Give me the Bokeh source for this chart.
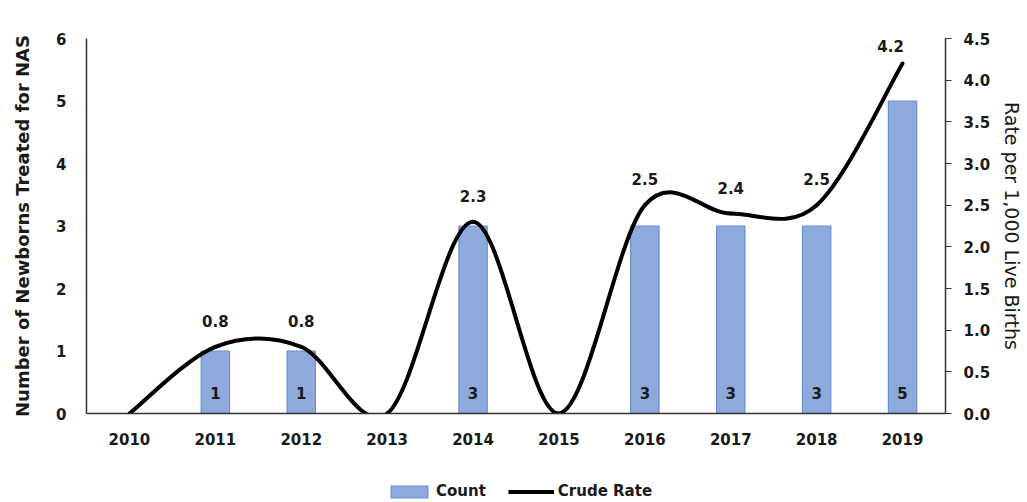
import numpy as np
from bokeh.plotting import figure
from bokeh.layouts import column
from bokeh.models import (Range1d, LinearAxis, FixedTicker, ColumnDataSource,
                          LabelSet, Legend, LegendItem)
from bokeh.core.properties import value
from bokeh.embed import file_html
from bokeh.resources import INLINE

# NAS newborn counts and crude rate per 1,000 live births
years = ["2010", "2011", "2012", "2013", "2014", "2015", "2016", "2017", "2018", "2019"]
counts = [0, 1, 1, 0, 3, 0, 3, 3, 3, 5]
rates = [0.0, 0.8, 0.8, 0.0, 2.3, 0.0, 2.5, 2.4, 2.5, 4.2]
count_ticks = [0, 1, 2, 3, 4, 5, 6]
rate_ticks = [0.0, 0.5, 1.0, 1.5, 2.0, 2.5, 3.0, 3.5, 4.0, 4.5]

FONT = "DejaVu Sans"
INK = "#1a1a1a"
BAR_FILL = "#8EA9DB"
BAR_EDGE = "#6A8FD6"

xs = list(range(len(years)))

p = figure(width=1027, height=462,
           x_range=Range1d(-0.5, len(years) - 0.5),
           y_range=Range1d(0, 6),
           output_backend="svg", toolbar_location=None,
           min_border_left=86, min_border_right=82,
           min_border_top=38, min_border_bottom=49)
p.extra_y_ranges = {"rate": Range1d(0, 4.5)}
p.outline_line_color = None
p.xgrid.visible = False
p.ygrid.visible = False
p.background_fill_color = "white"


def style_ticks(ax):
    ax.major_label_text_font = FONT
    ax.major_label_text_font_style = "bold"
    ax.major_label_text_font_size = "15px"
    ax.major_label_text_color = INK
    ax.axis_line_color = "#333333"
    ax.axis_line_width = 1.5
    ax.minor_tick_out = 0
    ax.minor_tick_in = 0
    ax.major_tick_in = 0


# --- axes -------------------------------------------------------------
xa = p.xaxis[0]
style_ticks(xa)
xa.ticker = FixedTicker(ticks=xs)
xa.major_label_overrides = {i: y for i, y in enumerate(years)}
xa.major_tick_out = 0
xa.major_label_standoff = 19

ya = p.yaxis[0]
style_ticks(ya)
ya.ticker = FixedTicker(ticks=count_ticks)
ya.major_tick_out = 0
ya.major_label_standoff = 20
ya.axis_label = "Number of Newborns Treated for NAS"
ya.axis_label_text_font = FONT
ya.axis_label_text_font_style = "bold"
ya.axis_label_text_font_size = "18px"
ya.axis_label_text_color = INK
ya.axis_label_standoff = 20

ra = LinearAxis(y_range_name="rate", ticker=FixedTicker(ticks=rate_ticks))
style_ticks(ra)
ra.major_label_overrides = {t: f"{t:.1f}" for t in rate_ticks}
ra.major_tick_out = 6
ra.major_tick_line_color = "#333333"
ra.major_label_standoff = 12
ra.axis_label = "Rate per 1,000 Live Births"
ra.axis_label_text_font = FONT
ra.axis_label_text_font_style = "normal"
ra.axis_label_text_font_size = "19px"
ra.axis_label_text_color = INK
ra.axis_label_standoff = 8
p.add_layout(ra, "right")

# --- count bars -------------------------------------------------------
bar_src = ColumnDataSource(dict(x=xs, top=counts, year=years))
BAR_STYLE = dict(fill_color=BAR_FILL, line_color=BAR_EDGE, line_width=1.2)
p.vbar(x="x", top="top", width=0.33, source=bar_src, **BAR_STYLE)

cnt_lab = ColumnDataSource(dict(
    x=[x for x, c in zip(xs, counts) if c > 0],
    y=[0] * sum(1 for c in counts if c > 0),
    text=[str(c) for c in counts if c > 0]))
p.add_layout(LabelSet(x="x", y="y", text="text", source=cnt_lab,
                      y_offset=21, text_align="center", text_baseline="middle",
                      text_font=value(FONT), text_font_style="bold",
                      text_font_size="15px", text_color=INK))

# --- smoothed crude-rate line (Catmull-Rom as cubic Bezier segments) ---
LINE_STYLE = dict(line_color="black", line_width=4)
n = len(rates)
seg = dict(x0=[], y0=[], x1=[], y1=[], cx0=[], cy0=[], cx1=[], cy1=[])
for i in range(n - 1):
    a, b = max(i - 1, 0), min(i + 2, n - 1)
    seg["x0"].append(xs[i]); seg["y0"].append(rates[i])
    seg["x1"].append(xs[i + 1]); seg["y1"].append(rates[i + 1])
    seg["cx0"].append(xs[i] + (xs[i + 1] - xs[a]) / 6)
    seg["cy0"].append(rates[i] + (rates[i + 1] - rates[a]) / 6)
    seg["cx1"].append(xs[i + 1] - (xs[b] - xs[i]) / 6)
    seg["cy1"].append(rates[i + 1] - (rates[b] - rates[i]) / 6)
p.bezier(x0="x0", y0="y0", x1="x1", y1="y1", cx0="cx0", cy0="cy0",
         cx1="cx1", cy1="cy1", source=ColumnDataSource(seg),
         line_cap="round", y_range_name="rate", **LINE_STYLE)

# rate value labels (the final point's label sits up and to the left)
lab_x, lab_y, lab_t, dx, dy = [], [], [], [], []
for i, r in enumerate(rates):
    if r > 0:
        lab_x.append(xs[i]); lab_y.append(r); lab_t.append(f"{r:.1f}")
        last = i == n - 1
        dx.append(-12 if last else 0)
        dy.append(18 if last else 26)
rate_lab = ColumnDataSource(dict(x=lab_x, y=lab_y, text=lab_t, dx=dx, dy=dy))
p.add_layout(LabelSet(x="x", y="y", text="text", source=rate_lab,
                      x_offset="dx", y_offset="dy", y_range_name="rate",
                      text_align="center", text_baseline="middle",
                      text_font=value(FONT), text_font_style="bold",
                      text_font_size="15px", text_color=INK))

# --- legend strip under the chart -----------------------------------
lg = figure(width=1027, height=40, x_range=Range1d(0, 1), y_range=Range1d(0, 1),
            x_axis_type=None, y_axis_type=None, output_backend="svg",
            toolbar_location=None, min_border=0)
lg.outline_line_color = None
# swatch renderers sit outside the visible range; only their legend keys show
key_bar = lg.vbar(x=[-5], top=[-4], width=0.3, **BAR_STYLE)
key_line = lg.line(x=[-5, -4], y=[-5, -5], **LINE_STYLE)
legend = Legend(items=[LegendItem(label="Count", renderers=[key_bar]),
                       LegendItem(label="Crude Rate", renderers=[key_line])],
                orientation="horizontal", location=(300, 2),
                glyph_width=46, glyph_height=15, label_standoff=4,
                spacing=22, padding=2, margin=0,
                border_line_color=None, background_fill_alpha=0,
                label_text_font=FONT, label_text_font_style="bold",
                label_text_font_size="15px", label_text_color=INK)
lg.add_layout(legend, "center")

open("out.html", "w").write(file_html(column(p, lg, spacing=0), INLINE))
